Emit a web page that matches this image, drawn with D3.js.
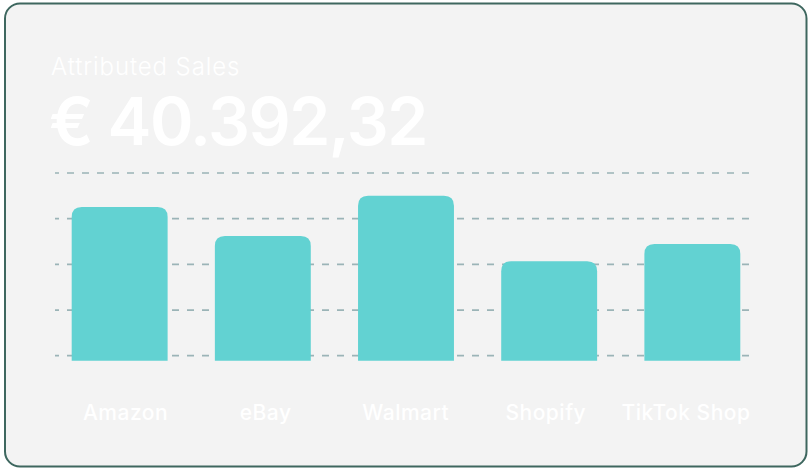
<!DOCTYPE html>
<html>
<head>
<meta charset="utf-8">
<script src="https://cdn.jsdelivr.net/npm/d3@7"></script>
<style>
  html, body { margin: 0; padding: 0; background: #ffffff; }
  svg { display: block; font-family: Inter, "Noto Sans", sans-serif; }
</style>
</head>
<body>
<div id="chart"></div>
<script>
// data
var channels = ["Amazon", "eBay", "Walmart", "Shopify", "TikTok Shop"];
var sales = [9760, 7860, 10500, 6200, 7330];
var gridValues = [0, 3000, 6000, 9000, 12000];
var title = "Attributed Sales";
var total = "€ 40.392,32";

var width = 812,
    height = 474;

var svg = d3.select("#chart").append("svg")
    .attr("width", width)
    .attr("height", height);

// card
svg.append("rect")
    .attr("x", 5)
    .attr("y", 3.5)
    .attr("width", 801.5)
    .attr("height", 463)
    .attr("rx", 15)
    .attr("fill", "#f3f3f3")
    .attr("stroke", "#3e675f")
    .attr("stroke-width", 2);

// headline texts
svg.append("text")
    .attr("x", 51)
    .attr("y", 74.5)
    .attr("fill", "#ffffff")
    .attr("font-size", 24)
    .attr("font-weight", 300)
    .attr("letter-spacing", 0.9)
    .text(title);

svg.append("text")
    .attr("x", 49)
    .attr("y", 145)
    .attr("fill", "#ffffff")
    .attr("font-size", 66)
    .attr("font-weight", 600)
    .attr("letter-spacing", -1.5)
    .text(total);

// scales
var x = d3.scaleBand()
    .domain(channels)
    .range([71.7, 740.3])
    .paddingInner(0.33)
    .paddingOuter(0);

// labels sit in equal slots across the grid width
var xLabel = d3.scaleBand()
    .domain(channels)
    .range([55.5, 756])
    .padding(0);

var y = d3.scaleLinear()
    .domain([0, 12000])
    .range([355.7, 173]);

// dashed gridlines
svg.append("g")
    .selectAll("line")
    .data(gridValues)
    .enter().append("line")
    .attr("x1", 55)
    .attr("x2", 757)
    .attr("y1", function(d) { return y(d); })
    .attr("y2", function(d) { return y(d); })
    .attr("stroke", "#9bb4b7")
    .attr("stroke-width", 1.7)
    .attr("stroke-dasharray", "7,8")
    .attr("stroke-dashoffset", 3);

// bars with rounded top corners, slightly below baseline
var r = 10, drop = 5;
function barPath(d, i) {
    var x0 = x(channels[i]), w = x.bandwidth();
    var top = y(d), bottom = y(0) + drop;
    return "M" + x0 + "," + bottom +
        "V" + (top + r) +
        "Q" + x0 + "," + top + " " + (x0 + r) + "," + top +
        "H" + (x0 + w - r) +
        "Q" + (x0 + w) + "," + top + " " + (x0 + w) + "," + (top + r) +
        "V" + bottom + "Z";
}

svg.append("g")
    .selectAll("path")
    .data(sales)
    .enter().append("path")
    .attr("d", barPath)
    .attr("fill", "#62d2d2");

// category labels
svg.append("g")
    .selectAll("text")
    .data(channels)
    .enter().append("text")
    .attr("x", function(d) { return xLabel(d) + xLabel.bandwidth() / 2; })
    .attr("y", 420)
    .attr("text-anchor", "middle")
    .attr("fill", "#ffffff")
    .attr("font-size", 21)
    .attr("font-weight", 500)
    .attr("letter-spacing", 0.5)
    .text(function(d) { return d; });
</script>
</body>
</html>
